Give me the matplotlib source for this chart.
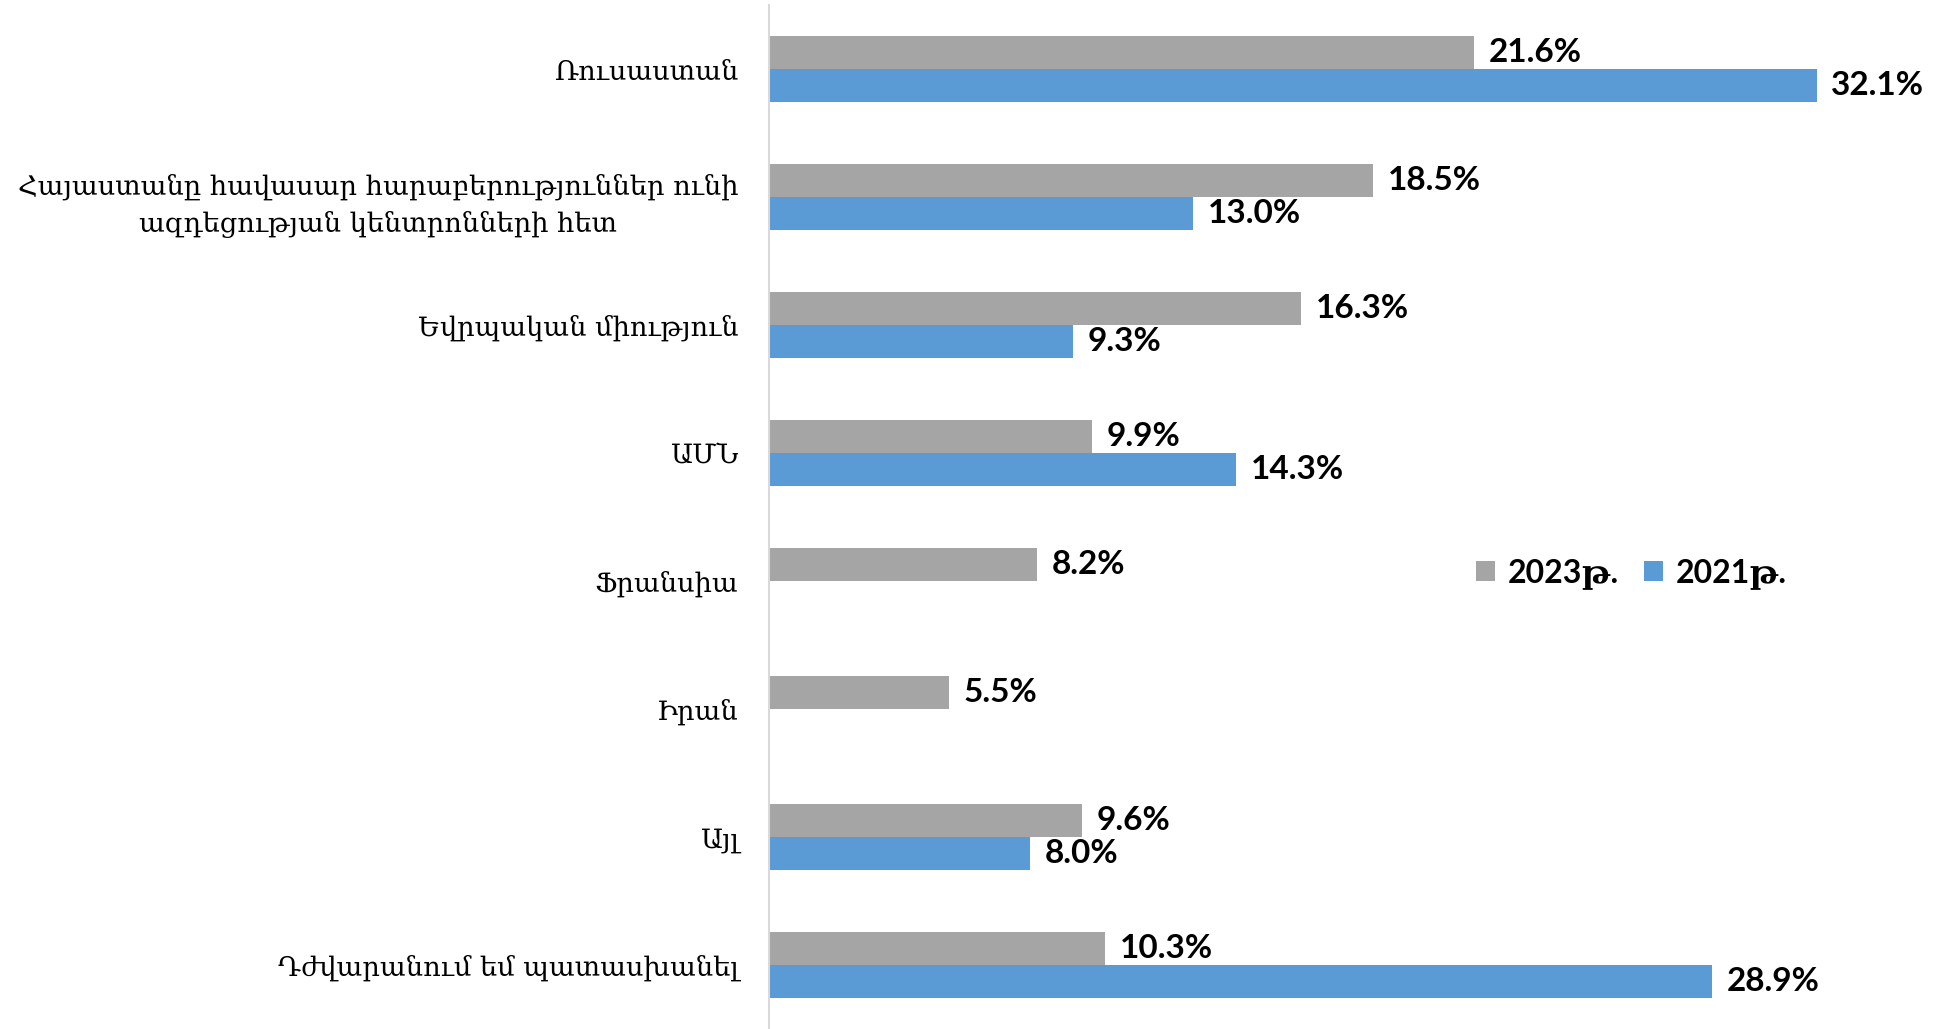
import numpy as np
import matplotlib
matplotlib.use("Agg")
import matplotlib.pyplot as plt

categories = [
    "Ռուսաստան",
    "Հայաստանը հավասար հարաբերություններ ունի\nազդեցության կենտրոնների հետ",
    "Եվրպական միություն",
    "ԱՄՆ",
    "Ֆրանսիա",
    "Իրան",
    "Այլ",
    "Դժվարանում եմ պատասխանել",
]
vals_2023 = [21.6, 18.5, 16.3, 9.9, 8.2, 5.5, 9.6, 10.3]
vals_2021 = [32.1, 13.0, 9.3, 14.3, None, None, 8.0, 28.9]
series_names = ["2023թ.", "2021թ."]

GRAY = "#A5A5A5"
BLUE = "#5B9BD5"
num_font = ["Lato", "DejaVu Serif"]

fig = plt.figure(figsize=(19.44, 10.29), dpi=100)
ax = fig.add_axes([769 / 1944, 0.0, 1 - 769 / 1944, 0.995])

y = np.arange(len(categories))
h = 0.26

for vals, off, col, name in [(vals_2023, -h / 2, GRAY, series_names[0]),
                             (vals_2021, h / 2, BLUE, series_names[1])]:
    idx = [i for i, v in enumerate(vals) if v is not None]
    vv = [vals[i] for i in idx]
    ax.barh(y[idx] + off, vv, height=h, color=col, label=name)
    for i, v in zip(idx, vv):
        ax.text(v + 0.45, y[i] + off, f"{v:.1f}%", va="center", ha="left",
                fontsize=24, fontweight="bold", family=num_font)

ax.set_xlim(0, 36)
ax.set_ylim(len(categories) - 0.5, -0.5)
ax.set_xticks([])
ax.set_yticks(y)
ax.set_yticklabels(categories, family=["DejaVu Serif"], fontsize=19.6, ha="right",
                   multialignment="center", linespacing=1.5)
ax.tick_params(axis="y", length=0, pad=22)
for s in ["top", "right", "bottom"]:
    ax.spines[s].set_visible(False)
ax.spines["left"].set_color("#D9D9D9")
ax.spines["left"].set_linewidth(1.5)

leg = ax.legend(loc="center", bbox_to_anchor=(0.734, 0.445), ncol=2, frameon=False,
                prop={"family": num_font, "size": 23, "weight": "bold"},
                handlelength=0.6, handleheight=0.6, handletextpad=0.4, columnspacing=0.8)

fig.savefig("out.png", dpi=100)
